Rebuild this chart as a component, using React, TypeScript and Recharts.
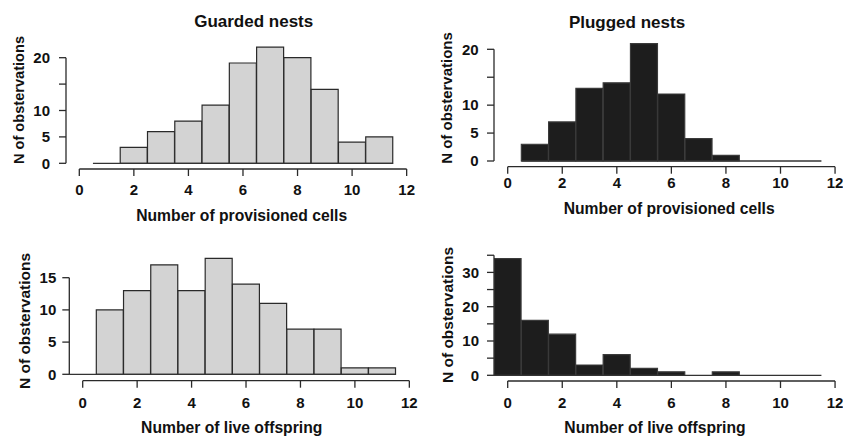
import React from 'react';
import { BarChart, Bar, XAxis, YAxis, ReferenceLine } from 'recharts';

// ---- data ----
const cellBins = [1, 2, 3, 4, 5, 6, 7, 8, 9, 10, 11];
const offspringBins = [0, 1, 2, 3, 4, 5, 6, 7, 8, 9, 10, 11];
const guardedCells = [0, 3, 6, 8, 11, 19, 22, 20, 14, 4, 5];
const pluggedCells = [3, 7, 13, 14, 21, 12, 4, 1, 0, 0, 0];
const guardedOffspring = [0, 10, 13, 17, 13, 18, 14, 11, 7, 7, 1, 1];
const pluggedOffspring = [34, 16, 12, 3, 6, 2, 1, 0, 1, 0, 0, 0];

const xTicks = [0, 2, 4, 6, 8, 10, 12];
const yTicksGuardedCells = [0, 5, 10, 15, 20];
const yLabelsGuardedCells = ['0', '5', '10', '', '20'];
const yTicksPluggedCells = [0, 5, 10, 15, 20];
const yLabelsPluggedCells = ['0', '5', '10', '', '20'];
const yTicksGuardedOffspring = [0, 5, 10, 15];
const yLabelsGuardedOffspring = ['0', '5', '10', '15'];
const yTicksPluggedOffspring = [0, 5, 10, 15, 20, 25, 30, 35];
const yLabelsPluggedOffspring = ['0', '', '10', '', '20', '', '30', ''];

const titleGuarded = 'Guarded nests';
const titlePlugged = 'Plugged nests';
const xTitleCells = 'Number of provisioned cells';
const xTitleOffspring = 'Number of live offspring';
const yTitle = 'N of obstervations';

const FONT = "'Liberation Sans', Arial, Helvetica, sans-serif";
const AXIS_COLOR = '#2a2a2a';

type Geom = {
  chartX: number; chartY: number; chartW: number; chartH: number;
  axisX: number; px0: number; pxu: number; plotRight: number;
  py0: number; pyu: number; axisY: number; ymax: number;
  xTickMargin: number; yTickMargin: number;
};

function Panel({ bins, counts, yTicks, yLabels, fill, stroke, g }: {
  bins: number[]; counts: number[]; yTicks: number[]; yLabels: string[];
  fill: string; stroke: string; g: Geom;
}) {
  const data = bins.map((b, i) => ({ bin: b, count: counts[i] }));
  const xmin = (g.axisX - g.px0) / g.pxu;
  const xmax = xmin + (g.plotRight - g.axisX) / g.pxu;
  const ymin = -(g.axisY - g.py0) / g.pyu;
  const plotTop = g.py0 - g.ymax * g.pyu;
  const yAxisW = 50;
  const xAxisH = 40;
  const margin = {
    left: g.axisX - g.chartX - yAxisW,
    top: plotTop - g.chartY,
    right: g.chartX + g.chartW - g.plotRight,
    bottom: g.chartY + g.chartH - g.axisY - xAxisH,
  };
  const half = (bins[1] - bins[0]) / 2;
  const tickStyle = { fill: '#111', fontSize: 15, fontWeight: 700, fontFamily: FONT };
  return (
    <div style={{ position: 'absolute', left: g.chartX, top: g.chartY }}>
      <BarChart width={g.chartW} height={g.chartH} data={data} margin={margin} barCategoryGap={0} barGap={0}>
        <XAxis
          dataKey="bin" type="number" domain={[xmin, xmax]} allowDataOverflow
          ticks={xTicks} interval={0} axisLine={false} tickSize={7}
          tickMargin={g.xTickMargin} height={xAxisH}
          tick={tickStyle} tickLine={{ stroke: AXIS_COLOR, strokeWidth: 1.3 }}
        />
        <YAxis
          type="number" domain={[ymin, g.ymax]} allowDataOverflow ticks={yTicks}
          interval={0} width={yAxisW} axisLine={false} tickSize={7}
          tickMargin={g.yTickMargin} tick={tickStyle}
          tickLine={{ stroke: AXIS_COLOR, strokeWidth: 1.3 }}
          tickFormatter={(v: number) => yLabels[yTicks.indexOf(v)] ?? ''}
        />
        <ReferenceLine
          segment={[{ x: xmin, y: yTicks[0] }, { x: xmin, y: yTicks[yTicks.length - 1] }]}
          stroke={AXIS_COLOR} strokeWidth={1.3} ifOverflow="visible"
        />
        <ReferenceLine
          segment={[{ x: xTicks[0], y: ymin }, { x: xTicks[xTicks.length - 1], y: ymin }]}
          stroke={AXIS_COLOR} strokeWidth={1.3} ifOverflow="visible"
        />
        <ReferenceLine
          segment={[{ x: bins[0] - half, y: 0 }, { x: bins[bins.length - 1] + half, y: 0 }]}
          stroke="#333" strokeWidth={1.3} ifOverflow="visible"
        />
        <Bar dataKey="count" fill={fill} stroke={stroke} strokeWidth={1.2} isAnimationActive={false} />
      </BarChart>
    </div>
  );
}

const gTL: Geom = { chartX: 0, chartY: 0, chartW: 421, chartH: 218, axisX: 66, px0: 79.3, pxu: 27.28, plotRight: 420, py0: 163.3, pyu: 5.28, axisY: 169, ymax: 23, xTickMargin: 8, yTickMargin: 9 };
const gTR: Geom = { chartX: 421, chartY: 0, chartW: 422, chartH: 218, axisX: 494, px0: 507.7, pxu: 27.28, plotRight: 843, py0: 161, pyu: 5.585, axisY: 166.7, ymax: 22.5, xTickMargin: 3.5, yTickMargin: 8.4 };
const gBL: Geom = { chartX: 0, chartY: 218, chartW: 421, chartH: 218, axisX: 69.3, px0: 82.7, pxu: 27.22, plotRight: 420, py0: 374.3, pyu: 6.44, axisY: 380.7, ymax: 19, xTickMargin: 9.6, yTickMargin: 6 };
const gBR: Geom = { chartX: 421, chartY: 218, chartW: 422, chartH: 218, axisX: 494, px0: 507.7, pxu: 27.28, plotRight: 843, py0: 375.3, pyu: 3.43, axisY: 381, ymax: 36, xTickMargin: 9.3, yTickMargin: 8 };

const LIGHT = '#d3d3d3';
const DARK = '#1d1d1d';

export default function App() {
  const textStyle = { fontFamily: FONT, fontWeight: 700, fill: '#111' } as const;
  return (
    <div style={{ position: 'absolute', left: 0, top: 0, width: 843, height: 436, overflow: 'hidden', background: '#fff' }}>
      <Panel bins={cellBins} counts={guardedCells} yTicks={yTicksGuardedCells} yLabels={yLabelsGuardedCells} fill={LIGHT} stroke="#2a2a2a" g={gTL} />
      <Panel bins={cellBins} counts={pluggedCells} yTicks={yTicksPluggedCells} yLabels={yLabelsPluggedCells} fill={DARK} stroke="#3a3a3a" g={gTR} />
      <Panel bins={offspringBins} counts={guardedOffspring} yTicks={yTicksGuardedOffspring} yLabels={yLabelsGuardedOffspring} fill={LIGHT} stroke="#2a2a2a" g={gBL} />
      <Panel bins={offspringBins} counts={pluggedOffspring} yTicks={yTicksPluggedOffspring} yLabels={yLabelsPluggedOffspring} fill={DARK} stroke="#3a3a3a" g={gBR} />
      <svg width={843} height={436} style={{ position: 'absolute', left: 0, top: 0, pointerEvents: 'none' }}>
        <text x={253.7} y={27.3} textAnchor="middle" fontSize={17} {...textStyle}>{titleGuarded}</text>
        <text x={627} y={28.3} textAnchor="middle" fontSize={17} {...textStyle}>{titlePlugged}</text>
        <text x={241.7} y={221} textAnchor="middle" fontSize={15.7} {...textStyle}>{xTitleCells}</text>
        <text x={669.2} y={214} textAnchor="middle" fontSize={15.7} {...textStyle}>{xTitleCells}</text>
        <text x={231.7} y={433} textAnchor="middle" fontSize={15.7} {...textStyle}>{xTitleOffspring}</text>
        <text x={655} y={433.3} textAnchor="middle" fontSize={15.7} {...textStyle}>{xTitleOffspring}</text>
        <text x={24} y={100} textAnchor="middle" fontSize={14.6} transform="rotate(-90 24 100)" {...textStyle}>{yTitle}</text>
        <text x={451.7} y={98} textAnchor="middle" fontSize={15} transform="rotate(-90 451.7 98)" {...textStyle}>{yTitle}</text>
        <text x={30} y={321} textAnchor="middle" fontSize={15.5} transform="rotate(-90 30 321)" {...textStyle}>{yTitle}</text>
        <text x={453.3} y={315} textAnchor="middle" fontSize={15.5} transform="rotate(-90 453.3 315)" {...textStyle}>{yTitle}</text>
      </svg>
    </div>
  );
}
